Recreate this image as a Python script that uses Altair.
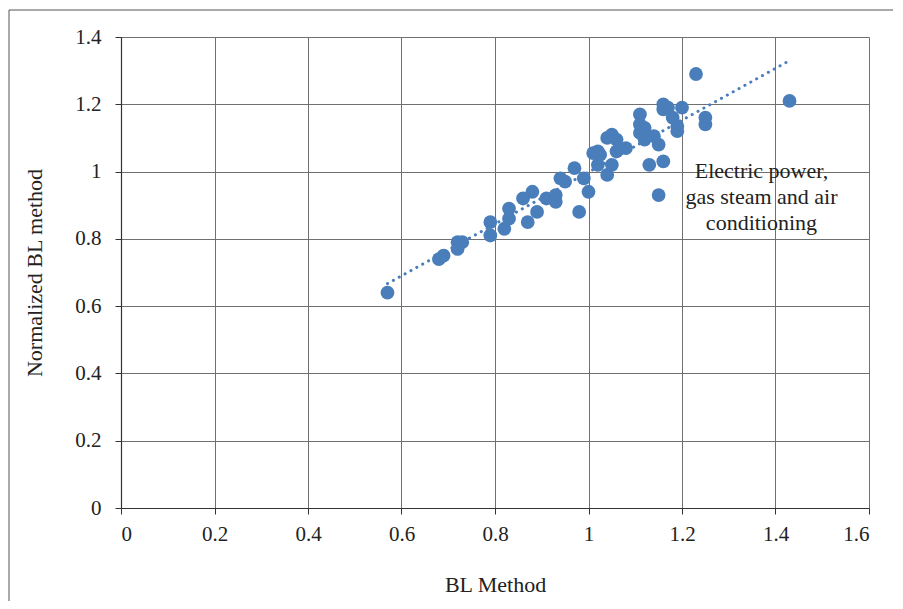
import altair as alt
import pandas as pd

bl_method = [0.57, 0.68, 0.69, 0.72, 0.72, 0.73, 0.79, 0.79, 0.82, 0.83, 0.83, 0.86, 0.87, 0.88,
             0.89, 0.91, 0.93, 0.93, 0.94, 0.95, 0.97, 0.98, 0.99, 1.00, 1.01, 1.02, 1.02, 1.025,
             1.04, 1.05, 1.04, 1.05, 1.06, 1.06, 1.08, 1.11, 1.11, 1.11, 1.12, 1.12, 1.13, 1.14,
             1.15, 1.15, 1.16, 1.16, 1.16, 1.17, 1.18, 1.19, 1.19, 1.20, 1.23, 1.25, 1.25, 1.43]
normalized_bl = [0.64, 0.74, 0.75, 0.77, 0.79, 0.79, 0.81, 0.85, 0.83, 0.86, 0.89, 0.92, 0.85, 0.94,
                 0.88, 0.92, 0.91, 0.93, 0.98, 0.97, 1.01, 0.88, 0.98, 0.94, 1.055, 1.06, 1.02, 1.05,
                 0.99, 1.02, 1.10, 1.11, 1.06, 1.095, 1.07, 1.17, 1.14, 1.115, 1.095, 1.13, 1.02, 1.105,
                 1.08, 0.93, 1.03, 1.20, 1.185, 1.19, 1.16, 1.12, 1.135, 1.19, 1.29, 1.16, 1.14, 1.21]

annotation_text = ["Electric power,", "gas steam and air", "conditioning"]
annotation_x = [1.37]
annotation_y = [0.98]

df = pd.DataFrame({"bl": bl_method, "nbl": normalized_bl})
ann = pd.DataFrame({"x": annotation_x, "y": annotation_y, "t": [annotation_text]})

FONT = "Times New Roman, Liberation Serif, serif"
BLUE = "#4A7EBB"

xscale = alt.Scale(domain=[0, 1.6], nice=False, zero=True)
yscale = alt.Scale(domain=[0, 1.4], nice=False, zero=True)

xaxis = alt.Axis(title="BL Method", values=[0, 0.2, 0.4, 0.6, 0.8, 1.0, 1.2, 1.4, 1.6], format="~g",
                 grid=True, labelPadding=9, titlePadding=30)
yaxis = alt.Axis(title="Normalized BL method", values=[0, 0.2, 0.4, 0.6, 0.8, 1.0, 1.2, 1.4], format="~g",
                 grid=True, labelPadding=14, titlePadding=28)

frame = alt.Chart(pd.DataFrame({"a": [0]})).mark_rect(
    fill=None, stroke="#555555", strokeWidth=1
).encode(
    x=alt.value(-112), x2=alt.value(1000), y=alt.value(-27), y2=alt.value(800)
)

points = alt.Chart(df).mark_circle(size=190, color=BLUE, opacity=1).encode(
    x=alt.X("bl:Q", scale=xscale, axis=xaxis),
    y=alt.Y("nbl:Q", scale=yscale, axis=yaxis),
)

trend = alt.Chart(df).transform_regression("bl", "nbl").mark_line(
    color=BLUE, strokeWidth=3, strokeCap="round", strokeDash=[0.1, 6.6]
).encode(x=alt.X("bl:Q", scale=xscale), y=alt.Y("nbl:Q", scale=yscale))

label = alt.Chart(ann).mark_text(
    font=FONT, fontSize=22, color="#222222", align="center", baseline="alphabetic", lineHeight=26
).encode(x=alt.X("x:Q", scale=xscale), y=alt.Y("y:Q", scale=yscale), text="t")

chart = alt.layer(trend, points, label, frame).properties(
    width=748, height=471,
    autosize=alt.AutoSizeParams(type="none"),
    padding={"left": 113, "top": 29, "right": 24, "bottom": 93},
).configure_view(stroke=None).configure_axis(
    labelFont=FONT, titleFont=FONT, labelFontSize=21, titleFontSize=22,
    labelColor="#222222", titleColor="#222222", titleFontWeight="normal",
    gridColor="#707070", gridWidth=1, gridOpacity=1,
    domainColor="#333333", domainWidth=1.2, tickColor="#333333", tickSize=6, tickWidth=1,
).configure_axisX(labelBaseline="top").configure_axisY(labelAlign="right")

chart.save("out.html", embed_options={"renderer": "svg", "actions": False})
